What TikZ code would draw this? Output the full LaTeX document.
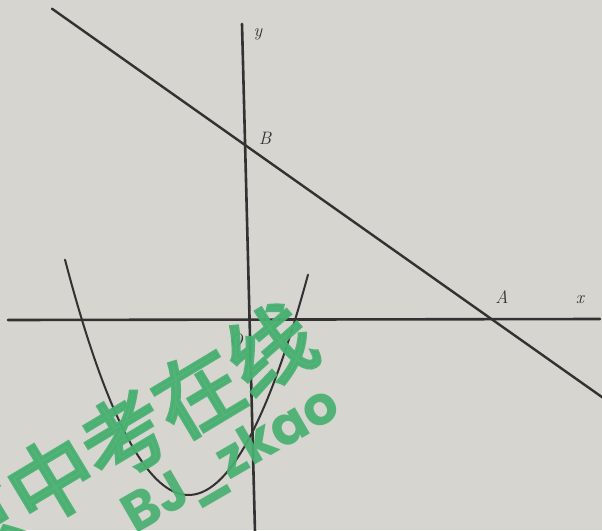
\documentclass[tikz,border=0pt]{standalone}
\usepackage{fontspec}
\newfontfamily\cjkwm{Noto Sans CJK SC}[FakeBold=4]
\newfontfamily\latwm{Poppins}
\usetikzlibrary{calc}
\definecolor{paper}{RGB}{214,213,208}
\definecolor{ink}{RGB}{50,50,50}
\definecolor{wmgreen}{RGB}{72,176,112}
\tikzset{
  curve/.style={draw=ink, line width=2.4pt, line cap=round},
  lbl/.style={font=\fontsize{18}{20}\selectfont\itshape, text=ink, inner sep=0pt},
  wm/.style={text=wmgreen, opacity=0.92, inner sep=0pt}
}
\begin{document}
\begin{tikzpicture}[x=1pt,y=-1pt]
\fill[paper] (0,0) rectangle (602,530);
\useasboundingbox (0,0) rectangle (602,530);
% axes
\coordinate (xl) at (8,320);
\coordinate (xr) at (600,319);
\coordinate (yt) at (242,24);
\coordinate (yb) at (255,532);
\coordinate (O) at (248,320);
\draw[curve, line width=2.6pt] (xl) -- (xr);
\draw[curve, line width=2.6pt] (yt) -- (yb);
% points
\coordinate (B) at (245,145);
\coordinate (A) at (490,318);
\draw[curve] ($(B)!-0.788!(A)$) -- ($(A)!-0.46!(B)$);
% parabola
\draw[curve, line width=2pt] plot[domain=65:308, samples=80, smooth] (\x, {320-0.01543*(\x-82)*(\x-295)});
% labels
\node[lbl] (ly) at (258,34) {y};
\node[lbl] (lB) at (265,138) {B};
\node[lbl] (lA) at (502,297) {A};
\node[lbl] (lx) at (580,300) {x};
\node[lbl] (lO) at (236,340) {O};
% watermark
\node[wm, rotate=31, font=\cjkwm\fontsize{85}{85}\selectfont] (wm1) at (124,436) {京中考在线};
\node[wm, rotate=30, font=\latwm\bfseries\fontsize{54}{54}\selectfont] (wm2) at (232,462) {BJ\_zkao};
\end{tikzpicture}
\end{document}
